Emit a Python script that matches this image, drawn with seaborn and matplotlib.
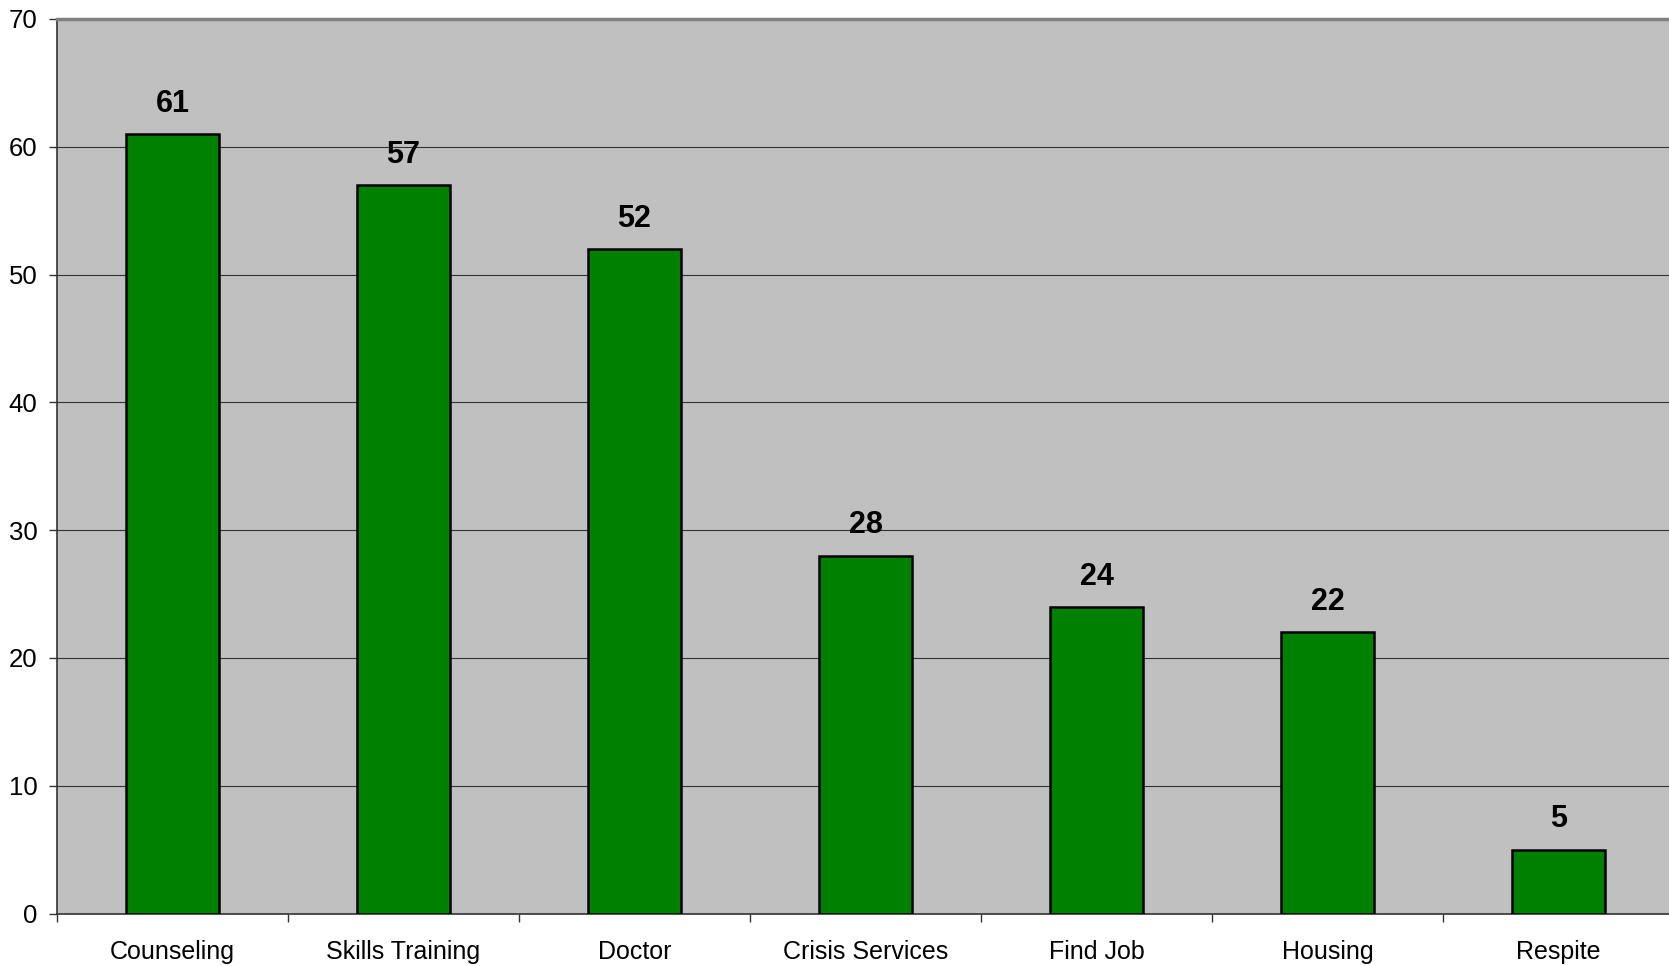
import matplotlib
matplotlib.use("Agg")
import matplotlib.pyplot as plt
import seaborn as sns
import pandas as pd

categories = ["Counseling", "Skills Training", "Doctor", "Crisis Services", "Find Job", "Housing", "Respite"]
values = [61, 57, 52, 28, 24, 22, 5]
yticks = [0, 10, 20, 30, 40, 50, 60, 70]

sns.set_style("white")
plt.rcParams['font.family'] = ['Liberation Sans', 'DejaVu Sans']
plt.rcParams['text.color'] = 'black'
plt.rcParams['xtick.color'] = '#333333'
plt.rcParams['ytick.color'] = '#333333'
plt.rcParams['xtick.labelcolor'] = 'black'
plt.rcParams['ytick.labelcolor'] = 'black'

df = pd.DataFrame({"category": categories, "value": values})

fig = plt.figure(figsize=(16.69, 9.66), dpi=100)
ax = fig.add_axes([57/1669, 52.5/966, 7*231/1669, 894.5/966])
ax.set_facecolor("#C0C0C0")

sns.barplot(data=df, x="category", y="value", color="#008000", width=0.40,
            edgecolor="black", linewidth=1.8, saturation=1, ax=ax, zorder=3)

ax.set_ylim(0, 70)
ax.set_xlim(-0.5, len(categories) - 0.5)
ax.set_yticks(yticks)
ax.set_yticklabels([str(t) for t in yticks])
ax.yaxis.grid(True, color="#333333", linewidth=0.8, zorder=0)
ax.set_axisbelow(True)
ax.set_xlabel("")
ax.set_ylabel("")

ax.set_xticks([i - 0.5 for i in range(len(categories))], minor=True)
ax.set_xticks(range(len(categories)))
ax.set_xticklabels(categories)
ax.tick_params(axis="x", which="major", bottom=False, length=0, pad=19, labelsize=18, labelcolor="black")
ax.tick_params(axis="x", which="minor", bottom=True, length=6, width=1, color="#333333", direction="out")
ax.tick_params(axis="y", left=True, length=6, width=1, color="#333333", pad=8, labelsize=18.5,
               labelcolor="black", direction="out")

for side in ["left", "bottom"]:
    ax.spines[side].set_color("#333333")
    ax.spines[side].set_linewidth(1.2)
ax.spines["top"].set_color("#808080")
ax.spines["top"].set_linewidth(2.5)
ax.spines["right"].set_visible(False)

for i, v in enumerate(values):
    ax.annotate(str(v), xy=(i, v), xytext=(0, 11), textcoords="offset points",
                ha="center", va="bottom", fontsize=22, fontweight="bold", color="black")

fig.savefig("out.png", dpi=100)
